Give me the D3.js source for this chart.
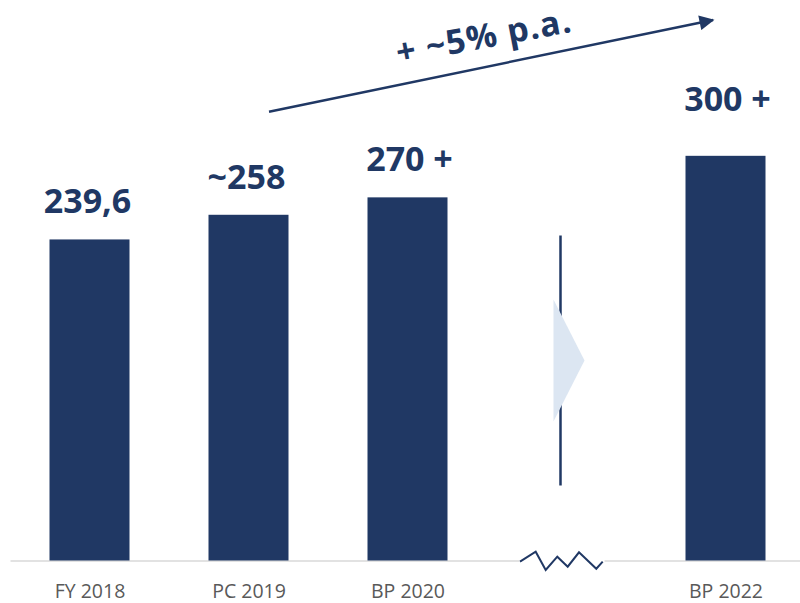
<!DOCTYPE html>
<html>
<head>
<meta charset="utf-8">
<script src="https://cdn.jsdelivr.net/npm/d3@7"></script>
<style>
  body { margin: 0; background: #fff; }
  svg { display: block; font-family: "Open Sans", sans-serif; }
</style>
</head>
<body>
<div id="chart"></div>
<script>
const svgWidth = 800;
const svgHeight = 603;
const baseY = 560.5;
const navy = '#203864';

// data
const categories = ['FY 2018', 'PC 2019', 'BP 2020', '', 'BP 2022'];
const values = [239.6, 258, 271, null, 302];
const valueLabels = ['239,6', '~258', '270 +', '', '300 +'];
const growthLabel = '+ ~5% p.a.';

const rows = categories.map((c, i) => ({ cat: c, value: values[i], label: valueLabels[i] }));

let xScale = d3.scalePoint()
    .domain(categories)
    .range([10, 805])
    .padding(0.5);
let yScale = d3.scaleLinear()
    .domain([0, 300])
    .range([baseY, baseY - 402]);
const barWidth = 80;

const svg = d3.select('#chart')
    .append('svg')
    .attr('width', svgWidth)
    .attr('height', svgHeight);

// x axis
const xAxis = d3.axisBottom(xScale).tickSize(0).tickPadding(24);
const gx = svg.append('g')
    .attr('transform', `translate(0, ${baseY})`)
    .call(xAxis);
gx.select('.domain').attr('stroke', '#d9d9d9').attr('stroke-width', 1.5);
gx.selectAll('text')
    .attr('fill', '#595959')
    .style('font-size', '19.5px')
    .style('font-family', '"Open Sans", sans-serif');

// bars
const barData = rows.filter(d => d.value != null);
svg.append('g')
    .selectAll('rect')
    .data(barData)
    .enter()
    .append('rect')
    .attr('x', d => xScale(d.cat) - barWidth / 2)
    .attr('y', d => yScale(d.value))
    .attr('width', barWidth)
    .attr('height', d => baseY - yScale(d.value))
    .attr('fill', navy);

// value labels (last one sits higher)
svg.append('g')
    .selectAll('text')
    .data(barData)
    .enter()
    .append('text')
    .attr('x', d => xScale(d.cat) + (d.label.endsWith('+') ? 2 : -2))
    .attr('y', (d, i) => yScale(d.value) - (i === barData.length - 1 ? 45 : 26))
    .attr('text-anchor', 'middle')
    .attr('fill', navy)
    .style('font-size', '34px')
    .style('font-weight', 700)
    .text(d => d.label);

// axis break between BP 2020 and BP 2022
const gapX = xScale('');
svg.append('line')
    .attr('x1', gapX - 6).attr('x2', gapX - 6)
    .attr('y1', baseY - 325).attr('y2', baseY - 75)
    .attr('stroke', navy)
    .attr('stroke-width', 2.5);
svg.append('path')
    .attr('d', `M${gapX - 13},${baseY - 261} L${gapX + 18},${baseY - 200} L${gapX - 13},${baseY - 139} Z`)
    .attr('fill', '#dce6f2');
svg.append('rect')
    .attr('x', gapX - 47).attr('y', baseY - 3)
    .attr('width', 85).attr('height', 6)
    .attr('fill', '#fff');
const zig = [[-46.5, 1.2], [-30.8, -8.8], [-20.8, 9.5], [-9.2, -3.8], [1.2, 6.2], [12.5, -8.2], [29.8, 8.2], [36.2, 1.2]];
svg.append('path')
    .attr('d', d3.line()(zig.map(p => [gapX + p[0], baseY + p[1]])))
    .attr('fill', 'none')
    .attr('stroke', navy)
    .attr('stroke-width', 2);

// growth arrow
svg.append('defs').append('marker')
    .attr('id', 'head')
    .attr('viewBox', '0 0 10 10')
    .attr('refX', 9).attr('refY', 5)
    .attr('markerWidth', 7).attr('markerHeight', 6)
    .attr('markerUnits', 'strokeWidth')
    .attr('orient', 'auto')
    .append('path')
    .attr('d', 'M0,0 L10,5 L0,10 Z')
    .attr('fill', navy);
svg.append('line')
    .attr('x1', 269).attr('y1', 111.7)
    .attr('x2', 713).attr('y2', 20)
    .attr('stroke', navy)
    .attr('stroke-width', 2.5)
    .attr('marker-end', 'url(#head)');
svg.append('text')
    .attr('transform', 'translate(486, 48) rotate(-10.7)')
    .attr('text-anchor', 'middle')
    .attr('fill', navy)
    .style('font-size', '34px')
    .style('font-weight', 700)
    .style('letter-spacing', '1px')
    .text(growthLabel);
</script>
</body>
</html>
